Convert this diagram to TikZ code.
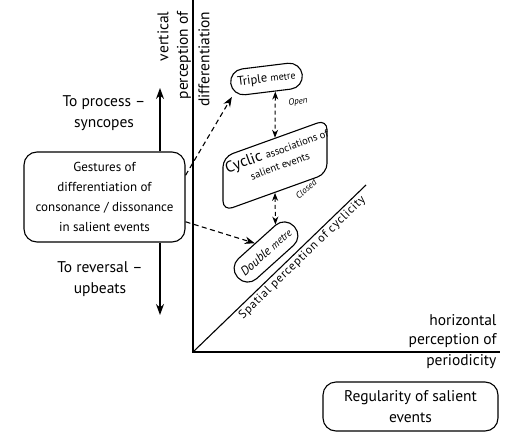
\documentclass[tikz,border=0pt]{standalone}
\usepackage{fontspec}
\setmainfont{PT Sans}
\usetikzlibrary{arrows.meta,calc}
\newcommand\fbig{\fontsize{15.5}{21}\selectfont}
\newcommand\fmid{\fontsize{13}{20}\selectfont}
\newcommand\fsp{\fontsize{12}{13}\selectfont\addfontfeature{LetterSpace=6}}
\begin{document}
\begin{tikzpicture}[x=1pt,y=1pt,line width=1.1pt,
  rbox/.style={draw,rounded corners=13pt,align=center,inner sep=0pt},
  pill/.style={draw,rounded corners=13pt,minimum height=26pt,inner sep=0pt},
  vlab/.style={rotate=90,anchor=east,font=\fbig,inner sep=0pt},
  hlab/.style={anchor=east,font=\fbig,inner sep=0pt},
  darrow/.style={dash pattern=on 5pt off 3.5pt,-{Stealth[length=10pt,width=7.5pt]}},
  dblarrow/.style={line width=1pt,dash pattern=on 4pt off 3pt,{Stealth[length=8pt,width=6pt]}-{Stealth[length=8pt,width=6pt]}},
  varrow/.style={-{Stealth[length=11pt,width=8pt]}},
  note/.style={font=\fontsize{9}{10}\selectfont\itshape,inner sep=0pt}]
\useasboundingbox (0,0) rectangle (505,-433);
% axes
\coordinate (O) at (193,-352);
\coordinate (ytop) at (193,0);
\coordinate (xend) at (500,-352);
\coordinate (dend) at (366,-185);
\draw (ytop) -- (O) -- (xend);
\draw (O) -- node[sloped,below,pos=0.6,font=\fsp,inner sep=2pt] (sp) {Spatial perception of cyclicity} (dend);
% axis labels
\node[vlab] (v1) at (163,-11) {vertical};
\node[vlab] (v2) at (184,-11) {perception of};
\node[vlab] (v3) at (204,-11) {differentiation};
\node[hlab] (h1) at (497,-320) {horizontal};
\node[hlab] (h2) at (497,-341) {perception of};
\node[hlab] (h3) at (497,-362) {periodicity};
% left side
\node[rbox,minimum width=161pt,minimum height=90pt,font=\fmid] (gest) at (104.5,-197)
  {Gestures of\\differentiation of\\consonance / dissonance\\in salient events};
\coordinate (upend) at (160,-88);
\coordinate (dnend) at (160,-315);
\draw[varrow] (gest.north -| upend) -- (upend);
\draw[varrow] (gest.south -| dnend) -- (dnend);
\node[align=center,font=\fbig] (proc) at (104,-113) {To process –\\syncopes};
\node[align=center,font=\fbig] (rev) at (100,-279) {To reversal –\\upbeats};
% metre boxes
\node[pill,rotate=7,minimum width=72pt] (trip) at (266.5,-79)
  {\fontsize{12.5}{12}\selectfont Triple \fontsize{10}{10}\selectfont metre};
\begin{scope}[shift={(275,-165.3)},yslant=0.36]
  \node[draw,transform shape,rounded corners=10pt,minimum width=104pt,minimum height=54pt,inner sep=0pt] (cyc) at (0,0) {};
\end{scope}
\node[rotate=20,inner sep=0pt] (cyc1) at (277,-151)
  {\fontsize{15.5}{15}\selectfont Cyclic \fontsize{10.5}{11}\selectfont associations of};
\node[rotate=20,inner sep=0pt] (cyc2) at (280,-166)
  {\fontsize{10.5}{11}\selectfont salient events};
\node[pill,rotate=42,minimum width=76pt,minimum height=27pt] (dbl) at (266,-252)
  {\itshape\fontsize{12.5}{12}\selectfont Double \fontsize{10.5}{10}\selectfont metre};
\node[note,rotate=8] (open) at (298,-102) {Open};
\node[note,rotate=40] (closed) at (306,-189) {Closed};
% connectors
\draw[darrow] (gest.15) -- (trip.south west);
\draw[darrow] (gest.-17) -- (dbl.100);
\draw[dblarrow] (trip.-62) -- (cyc.north);
\draw[dblarrow] (cyc.south) -- (dbl.29);
% bottom box
\node[rbox,minimum width=175pt,minimum height=49pt,font=\fbig] (reg) at (410.5,-406.5)
  {Regularity of salient\\events};
\end{tikzpicture}
\end{document}
